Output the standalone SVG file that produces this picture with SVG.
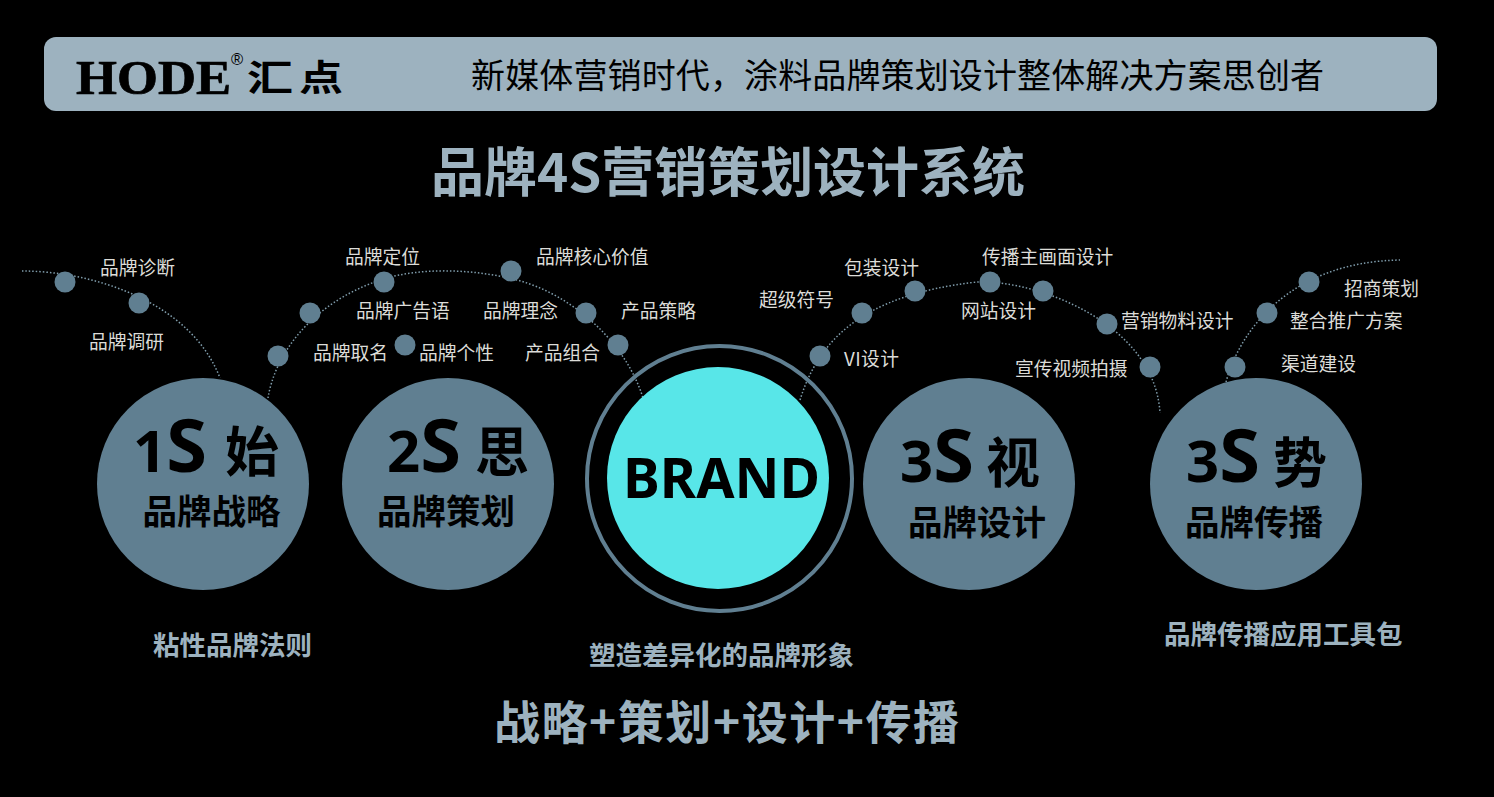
<svg xmlns="http://www.w3.org/2000/svg" width="1494" height="797" viewBox="0 0 1494 797">
<style>
text{font-family:"Noto Sans CJK SC","Noto Sans",sans-serif}
.l{font-size:18.75px;fill:#dcdcd8}
.h{font-weight:700;fill:#9db2bf}
.c{fill:#607f91}
.d{fill:#607f91}
.n{font-weight:700;fill:#000}
.a{font-family:"Noto Sans",sans-serif;font-weight:700;fill:#000;font-size:58px}
.a tspan{font-size:74px}
.s{fill:none;stroke:#7f9cab;stroke-width:1.5;stroke-dasharray:1.5 2}
</style>
<rect width="1494" height="797" fill="#000"/>
<g id="banner">
<rect x="44" y="37" width="1393" height="74" rx="12" fill="#9db2bf"/>
<text x="76" y="94" font-size="49" font-weight="700" style="font-family:'Liberation Serif',serif" textLength="155" lengthAdjust="spacingAndGlyphs" fill="#000" stroke="#000" stroke-width="0.7">HODE</text>
<text x="231" y="65" font-size="16.5" style="font-family:'Liberation Sans',sans-serif" fill="#000">®</text>
<text x="247" y="91" font-size="36" font-weight="700" textLength="46" lengthAdjust="spacingAndGlyphs" fill="#000">汇</text>
<text x="299" y="91" font-size="36" font-weight="700" textLength="44" lengthAdjust="spacingAndGlyphs" fill="#000">点</text>
<text x="471" y="88" font-size="34" textLength="853" fill="#000">新媒体营销时代，涂料品牌策划设计整体解决方案思创者</text>
</g>
<text id="title" class="h" x="431" y="192" font-size="53" textLength="594">品牌4S营销策划设计系统</text>
<g id="connectors">
<path class="s" d="M22 271C90 271 190 300 220 378"/>
<path class="s" d="M268 398C274 360 305 305 383 279C420 268 470 268 517 280C570 294 625 340 643 398"/>
<path class="s" d="M800 400C818 342 860 295 977 282C1040 280 1155 325 1160 413"/>
<path class="s" d="M1226 382C1240 330 1290 262 1400 260"/>
</g>
<g id="dots">
<circle class="d" cx="65" cy="282" r="10.5"/><circle class="d" cx="139" cy="303" r="10.5"/>
<circle class="d" cx="278" cy="356" r="10.5"/><circle class="d" cx="310" cy="313" r="10.5"/>
<circle class="d" cx="384" cy="282" r="10.5"/><circle class="d" cx="405" cy="345" r="10.5"/>
<circle class="d" cx="511" cy="271" r="10.5"/><circle class="d" cx="586" cy="313" r="10.5"/>
<circle class="d" cx="618" cy="345" r="10.5"/><circle class="d" cx="820" cy="356" r="10.5"/>
<circle class="d" cx="862" cy="313" r="10.5"/><circle class="d" cx="915" cy="291" r="10.5"/>
<circle class="d" cx="990" cy="282" r="10.5"/><circle class="d" cx="1043" cy="291" r="10.5"/>
<circle class="d" cx="1107" cy="324" r="10.5"/><circle class="d" cx="1150" cy="367" r="10.5"/>
<circle class="d" cx="1235" cy="367" r="10.5"/><circle class="d" cx="1267" cy="313" r="10.5"/>
<circle class="d" cx="1309" cy="282" r="10.5"/>
</g>
<g id="labels">
<text class="l" x="100" y="275">品牌诊断</text><text class="l" x="89" y="349">品牌调研</text>
<text class="l" x="345" y="264">品牌定位</text><text class="l" x="356" y="318">品牌广告语</text>
<text class="l" x="313" y="360">品牌取名</text><text class="l" x="419" y="360">品牌个性</text>
<text class="l" x="536" y="264">品牌核心价值</text><text class="l" x="483" y="318">品牌理念</text>
<text class="l" x="621" y="318">产品策略</text><text class="l" x="525" y="360">产品组合</text>
<text class="l" x="759" y="307">超级符号</text><text class="l" x="844" y="275">包装设计</text>
<text class="l" x="844" y="366" textLength="55">VI设计</text><text class="l" x="982" y="264">传播主画面设计</text>
<text class="l" x="961" y="318">网站设计</text><text class="l" x="1121" y="328">营销物料设计</text>
<text class="l" x="1015" y="376">宣传视频拍摄</text><text class="l" x="1281" y="371">渠道建设</text>
<text class="l" x="1290" y="328">整合推广方案</text><text class="l" x="1344" y="296">招商策划</text>
</g>
<g id="node-1s">
<circle class="c" cx="203" cy="484" r="106"/>
<text class="a" x="133" y="472">1<tspan>S</tspan></text>
<text class="n" x="225" y="472" font-size="54">始</text>
<text class="n" x="142.5" y="524" font-size="34.5">品牌战略</text>
</g>
<g id="node-2s">
<circle class="c" cx="448" cy="484" r="106"/>
<text class="a" x="387" y="472">2<tspan>S</tspan></text>
<text class="n" x="475" y="472" font-size="54">思</text>
<text class="n" x="377" y="524" font-size="34.5">品牌策划</text>
</g>
<g id="node-brand">
<circle cx="719.5" cy="478.5" r="132.5" fill="none" stroke="#607f91" stroke-width="4"/>
<circle cx="718" cy="478" r="111" fill="#58e6e8"/>
<text x="623" y="498" font-size="56" textLength="197" lengthAdjust="spacingAndGlyphs" style="font-family:'Noto Sans',sans-serif" font-weight="700" fill="#000">BRAND</text>
</g>
<g id="node-3s-see">
<circle class="c" cx="969" cy="484" r="106"/>
<text class="a" x="900" y="482">3<tspan>S</tspan></text>
<text class="n" x="986" y="483" font-size="54">视</text>
<text class="n" x="908" y="535" font-size="34.5">品牌设计</text>
</g>
<g id="node-3s-shi">
<circle class="c" cx="1256" cy="484" r="106"/>
<text class="a" x="1186" y="482">3<tspan>S</tspan></text>
<text class="n" x="1273" y="483" font-size="54">势</text>
<text class="n" x="1185" y="535" font-size="34.5">品牌传播</text>
</g>
<g id="captions">
<text class="h" x="153" y="655" font-size="26.5">粘性品牌法则</text>
<text class="h" x="589" y="665" font-size="26.5">塑造差异化的品牌形象</text>
<text class="h" x="1164" y="644" font-size="26.5">品牌传播应用工具包</text>
<text class="h" x="494" y="739" font-size="46" textLength="465">战略+策划+设计+传播</text>
</g>
</svg>
